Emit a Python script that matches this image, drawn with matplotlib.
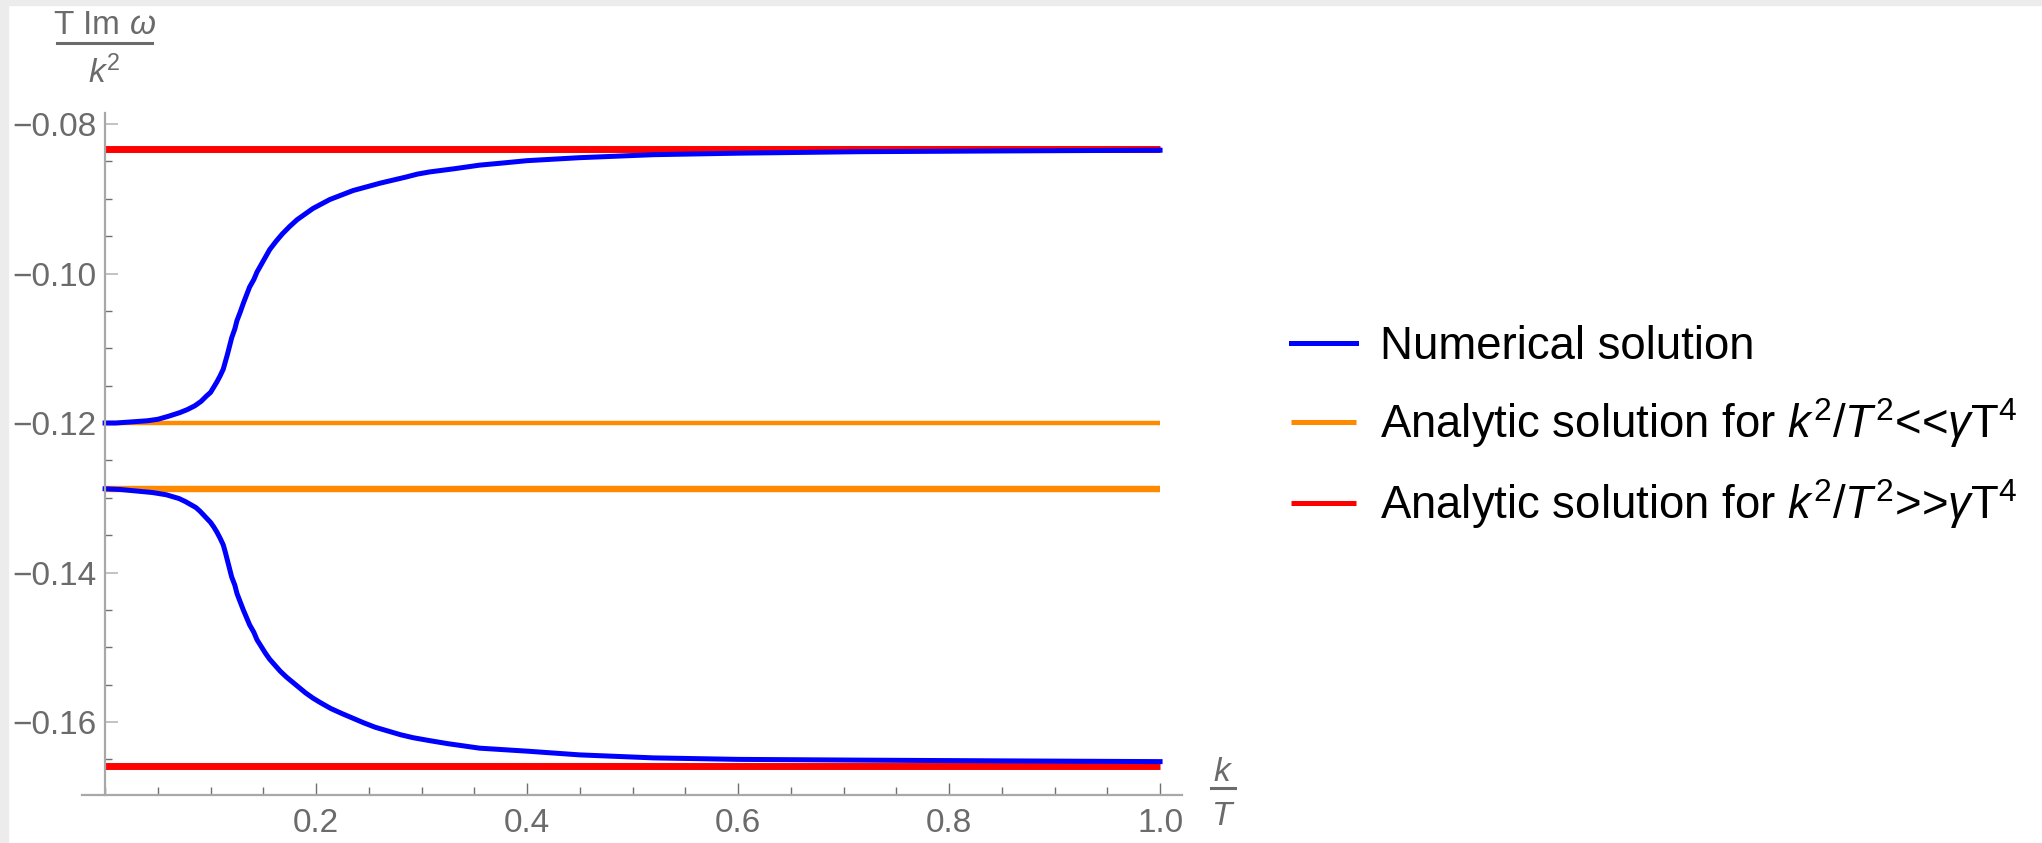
import matplotlib
matplotlib.use("Agg")
import matplotlib.pyplot as plt
from matplotlib.ticker import MultipleLocator, FixedLocator
from matplotlib.patches import Rectangle
from matplotlib.lines import Line2D

plt.rcParams['font.family'] = ['Liberation Sans', 'DejaVu Sans']
plt.rcParams['mathtext.fontset'] = 'custom'
plt.rcParams['mathtext.rm'] = 'Liberation Sans'
plt.rcParams['mathtext.it'] = 'Liberation Sans:italic'
plt.rcParams['mathtext.bf'] = 'Liberation Sans:bold'
plt.rcParams['axes.unicode_minus'] = True

# Numerical solution, upper branch (k/T, T Im w / k^2)
upper_x = [0.000, 0.010, 0.020, 0.030, 0.040, 0.050, 0.060, 0.071, 0.078, 0.085,
           0.091, 0.096, 0.100, 0.103, 0.106, 0.109, 0.112, 0.114, 0.116, 0.118,
           0.120, 0.123, 0.125, 0.128, 0.131, 0.134, 0.137, 0.141, 0.144, 0.148,
           0.152, 0.156, 0.162, 0.168, 0.175, 0.182, 0.190, 0.197, 0.205, 0.213,
           0.224, 0.235, 0.248, 0.261, 0.273, 0.285, 0.296, 0.308, 0.330, 0.355,
           0.378, 0.400, 0.450, 0.520, 0.600, 0.715, 0.850, 1.000]
upper_y = [-0.1200, -0.1200, -0.1199, -0.1198, -0.1197, -0.1195, -0.1191, -0.1186, -0.1182, -0.1177,
           -0.1171, -0.1164, -0.1159, -0.1152, -0.1145, -0.1137, -0.1128, -0.1118, -0.1108, -0.1097,
           -0.1086, -0.1074, -0.1063, -0.1052, -0.1040, -0.1029, -0.1018, -0.1008, -0.0998, -0.0988,
           -0.0978, -0.0968, -0.0957, -0.0947, -0.0937, -0.0928, -0.0920, -0.0913, -0.0907, -0.0901,
           -0.0895, -0.0889, -0.0884, -0.0879, -0.0875, -0.0871, -0.0867, -0.0864, -0.0860, -0.0855,
           -0.0852, -0.0849, -0.0845, -0.0841, -0.0839, -0.0837, -0.0836, -0.0835]

# Numerical solution, lower branch
lower_x = [0.000, 0.015, 0.030, 0.045, 0.058, 0.070, 0.076, 0.081, 0.086, 0.090,
           0.096, 0.100, 0.103, 0.106, 0.109, 0.112, 0.114, 0.116, 0.118, 0.120,
           0.123, 0.125, 0.128, 0.131, 0.134, 0.137, 0.141, 0.144, 0.148, 0.152,
           0.156, 0.161, 0.166, 0.172, 0.178, 0.184, 0.190, 0.197, 0.204, 0.214,
           0.225, 0.235, 0.245, 0.256, 0.268, 0.280, 0.292, 0.308, 0.325, 0.355,
           0.400, 0.450, 0.520, 0.600, 0.715, 0.850, 1.000]
lower_y = [-0.1288, -0.1289, -0.1291, -0.1293, -0.1296, -0.1301, -0.1305, -0.1309, -0.1313, -0.1318,
           -0.1327, -0.1333, -0.1339, -0.1346, -0.1354, -0.1363, -0.1373, -0.1384, -0.1395, -0.1406,
           -0.1417, -0.1428, -0.1439, -0.1450, -0.1460, -0.1470, -0.1480, -0.1490, -0.1499, -0.1508,
           -0.1516, -0.1524, -0.1532, -0.1540, -0.1547, -0.1554, -0.1561, -0.1568, -0.1574, -0.1582,
           -0.1589, -0.1595, -0.1601, -0.1607, -0.1612, -0.1617, -0.1621, -0.1625, -0.1629, -0.1635,
           -0.1639, -0.1644, -0.1648, -0.1650, -0.1651, -0.1652, -0.1653]

# Analytic limits
x_range = [0.0, 1.0]
small_k = [-0.1200, -0.1288]     # k^2/T^2 << gamma T^4
large_k = [-0.0833, -0.1659]     # k^2/T^2 >> gamma T^4

x_ticks = [0.2, 0.4, 0.6, 0.8, 1.0]
y_ticks = [-0.16, -0.14, -0.12, -0.10, -0.08]

label_num = 'Numerical solution'
label_small = r'Analytic solution for $k^2/T^2$<<$\gamma\mathrm{T}^4$'
label_large = r'Analytic solution for $k^2/T^2$>>$\gamma\mathrm{T}^4$'

blue = '#0000ff'
orange = '#ff8a00'
red = '#ff0000'
gray_txt = '#6b6b6b'

W, H = 2042, 843
fig = plt.figure(figsize=(W / 100, H / 100), dpi=100)
ax = fig.add_axes([0.0402, 0.0569, 0.5387, 0.809])

# horizontal analytic lines
ax.plot(x_range, [large_k[0]] * 2, color=red, lw=5, solid_capstyle='butt', label=label_large)
ax.plot(x_range, [large_k[1]] * 2, color=red, lw=5, solid_capstyle='butt')
ax.plot(x_range, [small_k[0]] * 2, color=orange, lw=3.2, solid_capstyle='butt', label=label_small)
ax.plot(x_range, [small_k[1]] * 2, color=orange, lw=4.6, solid_capstyle='butt')

# numerical curves
ax.plot(upper_x, upper_y, color=blue, lw=3.6, label=label_num)
ax.plot(lower_x, lower_y, color=blue, lw=3.6)

ax.set_xlim(-0.0218, 1.0209)
ax.set_ylim(-0.16977, -0.07853)

ax.spines['top'].set_visible(False)
ax.spines['right'].set_visible(False)
ax.spines['left'].set_position(('data', 0))
for s in ('left', 'bottom'):
    ax.spines[s].set_color('#a8a8a8')
    ax.spines[s].set_linewidth(1.6)

ax.xaxis.set_major_locator(FixedLocator(x_ticks))
ax.xaxis.set_minor_locator(MultipleLocator(0.05))
ax.yaxis.set_major_locator(FixedLocator(y_ticks))
ax.yaxis.set_minor_locator(MultipleLocator(0.005))
ax.set_xticklabels(['%.1f' % v for v in x_ticks])
ax.set_yticklabels(['\u2212%.2f' % abs(v) for v in y_ticks])

ax.tick_params(axis='both', which='both', direction='in', labelcolor=gray_txt, labelsize=24)
ax.tick_params(axis='x', which='major', length=9, width=1, color='#707070', pad=9)
ax.tick_params(axis='x', which='minor', length=6, width=1, color='#707070')
ax.tick_params(axis='y', which='major', length=9, width=1.2, color='#b8b8b8', pad=6)
ax.tick_params(axis='y', which='minor', length=5, width=1, color='#707070')

# y axis label: T Im w / k^2 as a stacked fraction
fig.text(104 / W, 1 - 34 / H, r'T Im $\omega$', ha='center', va='baseline',
         fontsize=24, color=gray_txt)
fig.add_artist(Line2D([57 / W, 152 / W], [1 - 43 / H, 1 - 43 / H], color=gray_txt, lw=2.2))
fig.text(104 / W, 1 - 83 / H, r'$k^2$', ha='center', va='baseline',
         fontsize=24, color=gray_txt)

# x axis label: k / T
fig.text(1223 / W, 1 - 781 / H, r'$k$', ha='center', va='baseline',
         fontsize=24, color=gray_txt)
fig.add_artist(Line2D([1211 / W, 1235 / W], [1 - 788 / H, 1 - 788 / H], color=gray_txt, lw=2.2))
fig.text(1223 / W, 1 - 825 / H, r'$T$', ha='center', va='baseline',
         fontsize=24, color=gray_txt)

handles, labels = ax.get_legend_handles_labels()
order = [labels.index(label_num), labels.index(label_small), labels.index(label_large)]
leg = fig.legend([handles[i] for i in order], [labels[i] for i in order],
                 loc='center left', bbox_to_anchor=(1291 / W, 1 - 428 / H),
                 frameon=False, fontsize=32.8, handlelength=1.42, handletextpad=0.54,
                 labelspacing=0.6, borderpad=0, borderaxespad=0)
for line in leg.get_lines():
    line.set_linewidth(3.6)

# screenshot edge strips
fig.patches.append(Rectangle((0, 0), 8 / W, 1, transform=fig.transFigure,
                             color='#ececec', zorder=0))
fig.patches.append(Rectangle((0, 1 - 5 / H), 1, 5 / H, transform=fig.transFigure,
                             color='#ececec', zorder=0))

fig.savefig('out.png', dpi=100)
